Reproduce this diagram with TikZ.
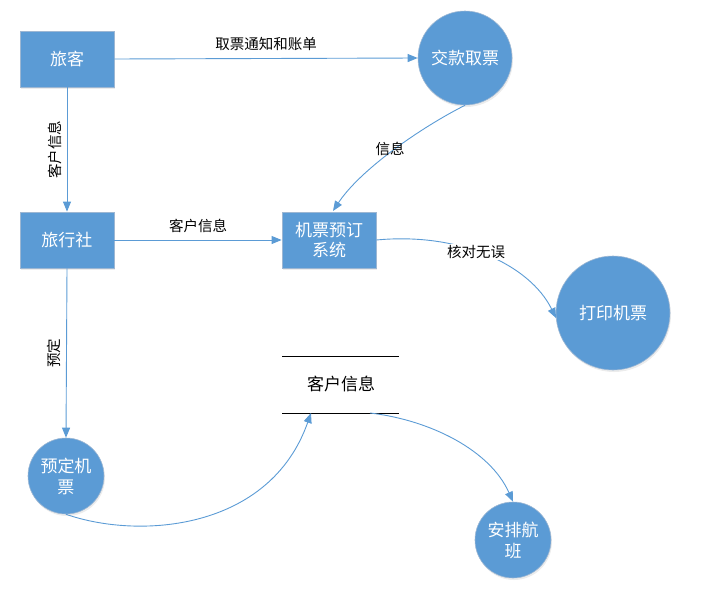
\documentclass[tikz,border=0pt]{standalone}
\usepackage{fontspec}
\setmainfont{Noto Sans CJK SC}
\usetikzlibrary{arrows.meta,shadows}
\definecolor{boxblue}{HTML}{5B9BD5}
\definecolor{edgeblue}{HTML}{9DB7D3}
\begin{document}
\begin{tikzpicture}[x=1pt,y=-1pt,
  proc/.style={draw=edgeblue,line width=0.8pt,fill=boxblue,text=white,minimum width=94pt,minimum height=56pt,inner sep=0pt,font=\fontsize{17}{20}\selectfont,align=center,drop shadow={opacity=0.15,shadow xshift=1pt,shadow yshift=-2pt}},
  circ/.style={circle,draw=edgeblue,line width=0.6pt,fill=boxblue,text=white,inner sep=0pt,font=\fontsize{17}{21}\selectfont,align=center,drop shadow={opacity=0.15,shadow xshift=1pt,shadow yshift=-2pt}},
  conn/.style={draw=boxblue,line width=0.9pt,-{Triangle[length=10pt,width=8pt]}},
  lbl/.style={font=\fontsize{14.5}{16}\selectfont,text=black,inner sep=1pt}]
\useasboundingbox (0,0) rectangle (713,605);
\node[proc] (lk) at (67,59) {旅客};
\node[proc] (lxs) at (67,240) {旅行社};
\node[proc] (sys) at (329,240) {机票预订\\系统};
\node[circ,minimum size=94pt] (jk) at (465,58) {交款取票};
\node[circ,minimum size=114pt] (dy) at (613,313) {打印机票};
\node[circ,minimum size=76pt] (yd) at (66,476) {预定机\\票};
\node[circ,minimum size=76pt] (ap) at (513,540) {安排航\\班};
% data store
\coordinate (dsTL) at (282,356);
\coordinate (dsTR) at (399,356);
\coordinate (dsBL) at (282,413);
\coordinate (dsBR) at (399,413);
\draw[line width=0.8pt] (dsTL) -- (dsTR);
\draw[line width=0.8pt] (dsBL) -- (dsBR);
\node[font=\fontsize{17}{20}\selectfont] (ds) at (341,384) {客户信息};
\coordinate (dsIn) at (311,413);
\coordinate (dsOut) at (370,413);
% connectors
\draw[conn] (lk.east) -- node[lbl,above=6pt] {取票通知和账单} (jk.west);
\draw[conn] (lk.south) -- node[lbl,rotate=90,above=4pt,pos=0.5] {客户信息} (lxs.north);
\draw[conn] (lxs.east) -- node[lbl,above=6pt,pos=0.5] {客户信息} (sys.west);
\draw[conn] (jk.south) .. controls (420,128) and (360,170) .. (333,211);
\node[lbl] (l1) at (390,149) {信息};
\draw[conn] (sys.east) .. controls (460,232) and (530,265) .. (556,318);
\node[lbl,fill=white] (l2) at (476,252) {核对无误};
\draw[conn] (lxs.south) -- node[lbl,rotate=90,above=4pt,pos=0.5] {预定} (yd.north);
\draw[conn] (yd.south) .. controls (140,540) and (270,530) .. (dsIn);
\draw[conn] (dsOut) .. controls (430,420) and (490,450) .. (ap.north);
\end{tikzpicture}
\end{document}
